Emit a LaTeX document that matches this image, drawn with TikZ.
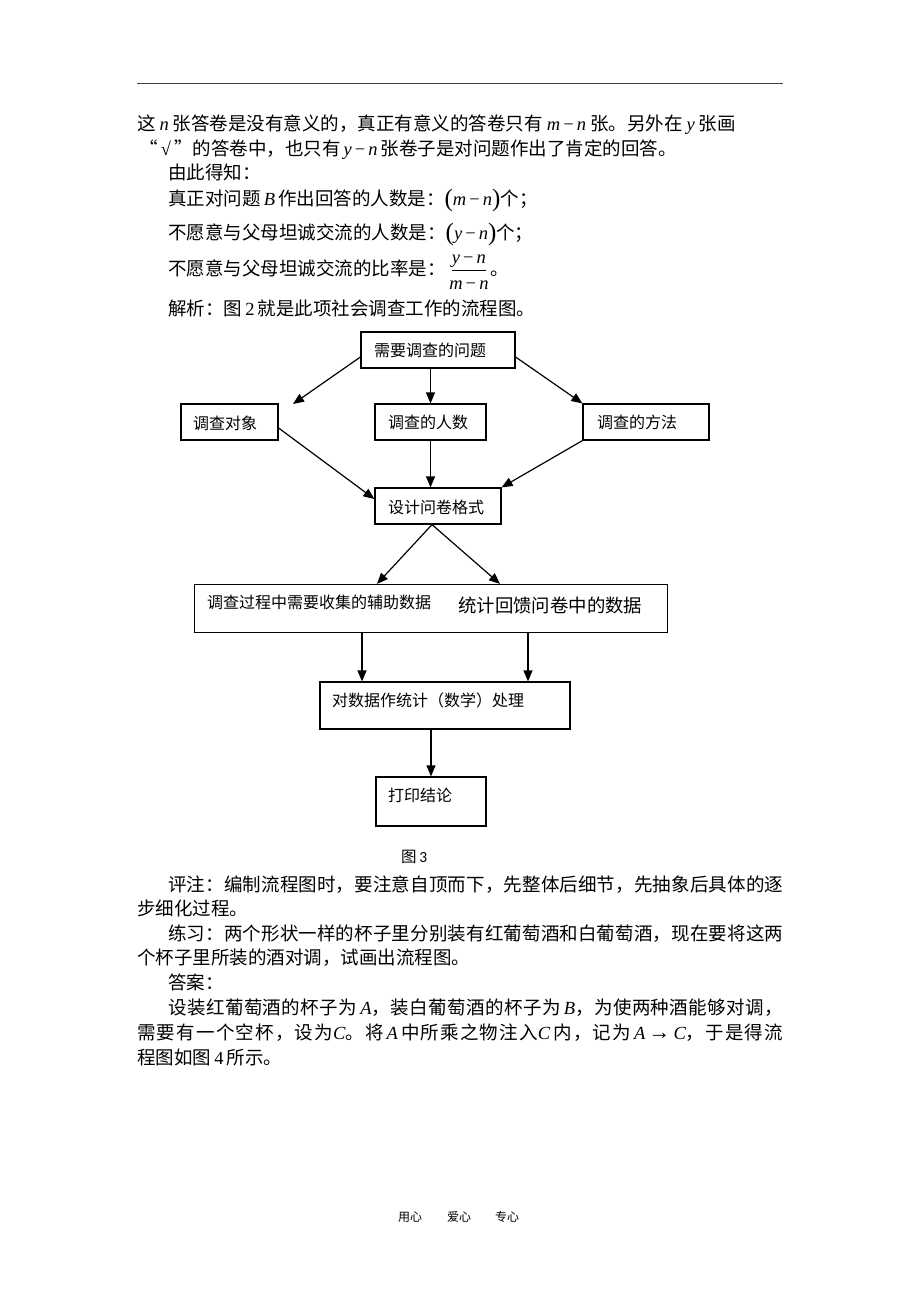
\documentclass[tikz,border=0pt]{standalone}
\usepackage{fontspec}
\setmainfont{Noto Sans CJK SC}
\newfontfamily\tnr{Liberation Serif}
\newfontfamily\calib{Carlito}
\usetikzlibrary{arrows.meta,calc}
\XeTeXinterchartokenstate=1
\chardef\CJKcls=7
\makeatletter
\count@="3000
\loop\ifnum\count@<"A000\relax \XeTeXcharclass\count@=\CJKcls\relax \advance\count@ by 1\relax \repeat
\count@="FF00
\loop\ifnum\count@<"FFF0\relax \XeTeXcharclass\count@=\CJKcls\relax \advance\count@ by 1\relax \repeat
\makeatother
\XeTeXinterchartoks\CJKcls\CJKcls={\hskip0pt plus 1fil minus 0.5pt\relax}
\newcommand\mi[1]{{\tnr\itshape #1}}
\newcommand\mminus{{\tnr\,−\,}}
\newcommand\lsp{\hspace{4pt}}
\newcommand\bigp[1]{{\tnr\fontsize{25}{25}\selectfont\raisebox{-1.5pt}{#1}}}
\tikzset{
  body/.style={anchor=base west, inner sep=0pt, font=\fontsize{18.5}{22}\selectfont},
  ftxt/.style={anchor=west, inner sep=0pt, font=\fontsize{16}{19}\selectfont},
  box/.style={draw, line width=1.2pt, inner sep=0pt},
  arr/.style={line width=1.2pt, -{Triangle[length=11pt,width=9pt]}}
}
\begin{document}
\begin{tikzpicture}[x=1pt,y=-1pt]
\useasboundingbox[fill=white] (0,0) rectangle (920,1302);
% header rule
\coordinate (hl) at (137,83);
\coordinate (hr) at (783,83);
\draw[line width=1pt, black!75] (hl) -- (hr);
% upper text
\node[body] (l1) at (137,130) {这\lsp\mi{n}\lsp 张答卷是没有意义的，真正有意义的答卷只有\lsp\mi{m}\mminus\mi{n}\lsp 张。另外在\lsp\mi{y}\lsp 张画};
\node[body] (l2) at (139,155) {“\,{\tnr √}\,”的答卷中，也只有\,\mi{y}\mminus\mi{n}\,张卷子是对问题作出了肯定的回答。};
\node[body] (l3) at (168,179) {由此得知：};
\node[body] (l4) at (168,205) {真正对问题\,\mi{B}\,作出回答的人数是：\bigp{(}\mi{m}\mminus\mi{n}\bigp{)}个；};
\node[body] (l5) at (168,239) {不愿意与父母坦诚交流的人数是：\bigp{(}\mi{y}\mminus\mi{n}\bigp{)}个；};
\node[body] (l6) at (168,275) {不愿意与父母坦诚交流的比率是：};
\coordinate (fl) at ($(l6.base east)+(6,0)$);
\node[body, anchor=base] (fnum) at ($(fl)+(17,-12)$) {\mi{y}\mminus\mi{n}};
\node[body, anchor=base] (fden) at ($(fl)+(17,14)$) {\mi{m}\mminus\mi{n}};
\coordinate (fb1) at ($(fl)+(0,-5)$);
\coordinate (fb2) at ($(fl)+(34,-5)$);
\draw[line width=0.9pt] (fb1) -- (fb2);
\node[body] (l6b) at ($(fl)+(38,0)$) {。};
\node[body] (l7) at (168,315) {解析：图\,{\tnr 2}\,就是此项社会调查工作的流程图。};
% flowchart boxes
\node[box, minimum width=154pt, minimum height=36pt] (q) at (438,350) {};
\node[box, minimum width=97pt, minimum height=36pt] (obj) at (229.5,422) {};
\node[box, minimum width=111pt, minimum height=36pt] (num) at (430.5,422) {};
\node[box, minimum width=126pt, minimum height=36pt] (meth) at (646,422) {};
\node[box, minimum width=126pt, minimum height=36pt] (des) at (438,506) {};
\node[box, minimum width=473pt, minimum height=48pt] (wide) at (431,608.5) {};
\node[box, minimum width=250pt, minimum height=47pt] (proc) at (445,705.5) {};
\node[box, minimum width=110pt, minimum height=49pt] (prt) at (431,801.5) {};
% flowchart texts
\node[ftxt] (tq) at (374,350) {需要调查的问题};
\node[ftxt] (tobj) at (193,423) {调查对象};
\node[ftxt] (tnum) at (388,422) {调查的人数};
\node[ftxt] (tmeth) at (597,422) {调查的方法};
\node[ftxt] (tdes) at (388,507) {设计问卷格式};
\node[ftxt] (tw1) at (207,602) {调查过程中需要收集的辅助数据};
\node[ftxt, font=\fontsize{18.4}{21}\selectfont] (tw2) at (458,605) {统计回馈问卷中的数据};
\node[ftxt] (tproc) at (332,700) {对数据作统计（数学）处理};
\node[ftxt] (tprt) at (388,795) {打印结论};
% connectors
\coordinate (c1) at (293,404);
\draw[arr] ($(q.west)+(0,7)$) -- (c1);
\draw[arr] (num.north |- q.south) -- (num.north);
\draw[arr] ($(q.east)+(0,7)$) -- (meth.north west);
\draw[arr] ($(obj.east)+(0,6)$) -- ($(des.west)+(0,-7)$);
\draw[arr] (num.south) -- (num.south |- des.north);
\draw[arr] (meth.south west) -- (des.north east);
\draw[arr] ($(des.south)+(-6,0)$) -- ($(wide.north)+(-54,0)$);
\draw[arr] ($(des.south)+(-6,0)$) -- ($(wide.north)+(69,0)$);
\draw[arr] ($(wide.south)+(-69,0)$) -- ($(proc.north)+(-83,0)$);
\draw[arr] ($(wide.south)+(97,0)$) -- ($(proc.north)+(83,0)$);
\draw[arr] (prt.north |- proc.south) -- (prt.north);
% caption
\node[ftxt, font=\fontsize{15.5}{18}\selectfont] (cap) at (401,857) {图\,{\calib 3}};
% lower text
\node[body] (p1) at (168,891) {\hbox to 615pt{评注：编制流程图时，要注意自顶而下，先整体后细节，先抽象后具体的逐}};
\node[body] (p2) at (137,915.5) {步细化过程。};
\node[body] (p3) at (168,940) {\hbox to 615pt{练习：两个形状一样的杯子里分别装有红葡萄酒和白葡萄酒，现在要将这两}};
\node[body] (p4) at (137,964.5) {个杯子里所装的酒对调，试画出流程图。};
\node[body] (p5) at (168,989) {答案：};
\node[body] (p6) at (168,1014) {\hbox to 615pt{设装红葡萄酒的杯子为\,\mi{A}，装白葡萄酒的杯子为\,\mi{B}，为使两种酒能够对调，}};
\node[body] (p7) at (137,1039) {\hbox to 646pt{需要有一个空杯，设为\mi{C}。将\,\mi{A}\,中所乘之物注入\mi{C}\,内，记为\,\mi{A}\,{\tnr\fontsize{22}{22}\selectfont→}\,\mi{C}，于是得流}};
\node[body] (p8) at (137,1064) {程图如图\,{\tnr 4}\,所示。};
% footer
\node[anchor=west, inner sep=0pt, font=\fontsize{12}{14}\selectfont] (f1) at (398,1217) {用心};
\node[anchor=west, inner sep=0pt, font=\fontsize{12}{14}\selectfont] (f2) at (447,1217) {爱心};
\node[anchor=west, inner sep=0pt, font=\fontsize{12}{14}\selectfont] (f3) at (495,1217) {专心};
\end{tikzpicture}
\end{document}
